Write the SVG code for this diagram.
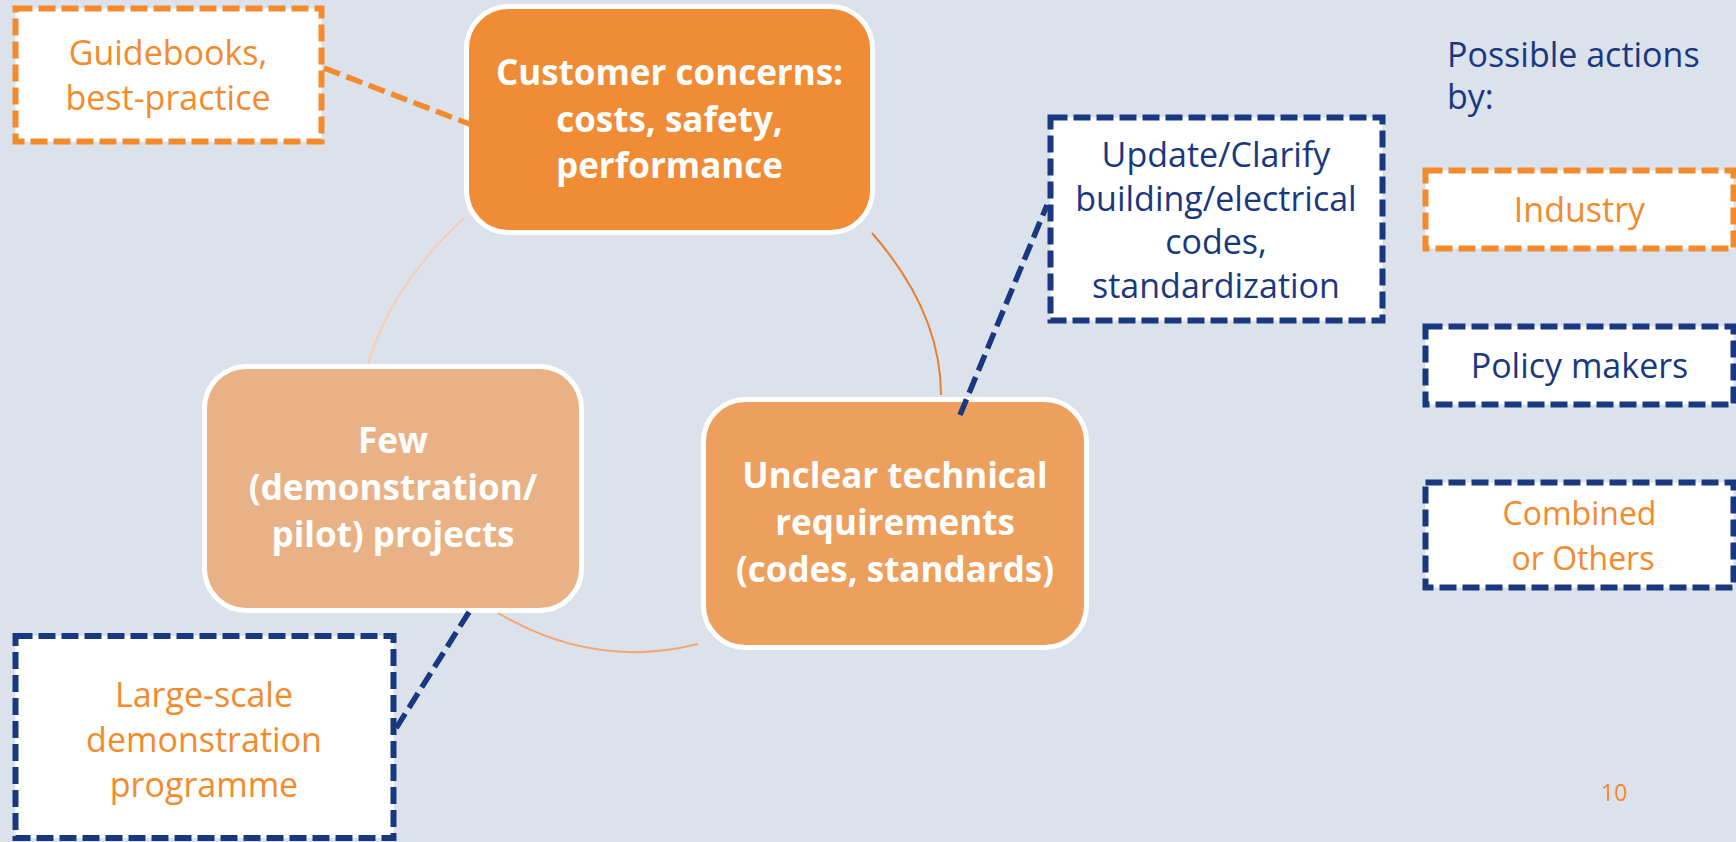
<svg xmlns="http://www.w3.org/2000/svg" width="1736" height="842" viewBox="0 0 1736 842">
<style>
.bg{fill:#DBE2EC}
.node{stroke:#FFFFFF;stroke-width:5}
.bold{font-family:"Open Sans","Noto Sans","Liberation Sans",sans-serif;font-weight:700;font-size:35px;fill:#FFFFFF;text-anchor:middle}
.reg{font-family:"Open Sans","Noto Sans","Liberation Sans",sans-serif;font-weight:400;font-size:34px;text-anchor:middle}
.o{fill:#F38A2C}
.n{fill:#19387F}
.boxo{fill:#FFFFFF;stroke:#F38A2C;stroke-width:6;stroke-dasharray:17 6}
.boxn{fill:#FFFFFF;stroke:#19387F;stroke-width:6;stroke-dasharray:17 6}
.arc{fill:none;stroke-width:2}
.dash{fill:none;stroke-width:5.5;stroke-dasharray:17 7}
</style>
<rect class="bg" x="0" y="0" width="1736" height="842"/>

<g id="customer">
<rect class="node" x="466.5" y="6.5" width="406" height="226" rx="42" fill="#F18C36"/>
<text class="bold" x="669.5" y="85">Customer concerns:</text>
<text class="bold" x="669.5" y="131.5">costs, safety,</text>
<text class="bold" x="669.5" y="178">performance</text>
</g>

<g id="unclear">
<rect class="node" x="703.5" y="399.5" width="383" height="248" rx="42" fill="#ED9F5D"/>
<text class="bold" x="895" y="488">Unclear technical</text>
<text class="bold" x="895" y="535">requirements</text>
<text class="bold" x="895" y="582">(codes, standards)</text>
</g>

<g id="few">
<rect class="node" x="204.5" y="366.5" width="377" height="244" rx="42" fill="#E8B286"/>
<text class="bold" x="393" y="453">Few</text>
<text class="bold" x="393" y="500">(demonstration/</text>
<text class="bold" x="393" y="547">pilot) projects</text>
</g>

<g id="guidebooks">
<rect class="boxo" x="15.5" y="8.5" width="306" height="133"/>
<text class="reg o" x="168" y="65">Guidebooks,</text>
<text class="reg o" x="168" y="110">best-practice</text>
</g>

<g id="update">
<rect class="boxn" x="1050.5" y="117.5" width="332" height="203"/>
<text class="reg n" x="1216" y="167">Update/Clarify</text>
<text class="reg n" x="1216" y="211">building/electrical</text>
<text class="reg n" x="1216" y="254">codes,</text>
<text class="reg n" x="1216" y="298">standardization</text>
</g>

<g id="largescale">
<rect class="boxn" x="15.5" y="636" width="378" height="202"/>
<text class="reg o" x="204" y="707">Large-scale</text>
<text class="reg o" x="204" y="752">demonstration</text>
<text class="reg o" x="204" y="797">programme</text>
</g>

<g id="legend-title">
<text class="reg n" x="1447" y="67" style="text-anchor:start">Possible actions</text>
<text class="reg n" x="1447" y="109" style="text-anchor:start">by:</text>
</g>

<g id="legend-industry">
<rect class="boxo" x="1425.5" y="170.5" width="308" height="78"/>
<text class="reg o" x="1579.5" y="222">Industry</text>
</g>

<g id="legend-policy">
<rect class="boxn" x="1425.5" y="326.5" width="308" height="78"/>
<text class="reg n" x="1579.5" y="378">Policy makers</text>
</g>

<g id="legend-combined">
<rect class="boxn" x="1425.5" y="482.5" width="308" height="105"/>
<text class="reg o" x="1579.5" y="525" style="font-size:32px">Combined</text>
<text class="reg o" x="1583" y="570" style="font-size:32px">or Others</text>
</g>

<g id="page-number">
<text x="1601" y="801" style="font-family:'Open Sans','Noto Sans','Liberation Sans',sans-serif;font-size:23px;fill:#F38A2C">10</text>
</g>

<g id="connectors">
<path class="arc" d="M872,233 Q941,312 941,395" stroke="#E8812F"/>
<path class="arc" d="M698,644 Q594,670 498,613" stroke="#F2A775"/>
<path class="arc" d="M464,218 Q391,286 368,364" stroke="#F7CBB4"/>
<path class="dash" d="M324,68 L472,125" stroke="#F38A2C"/>
<path class="dash" d="M960,415 L1047,205" stroke="#19387F"/>
<path class="dash" d="M469,612 L395,730" stroke="#19387F"/>
</g>
</svg>
